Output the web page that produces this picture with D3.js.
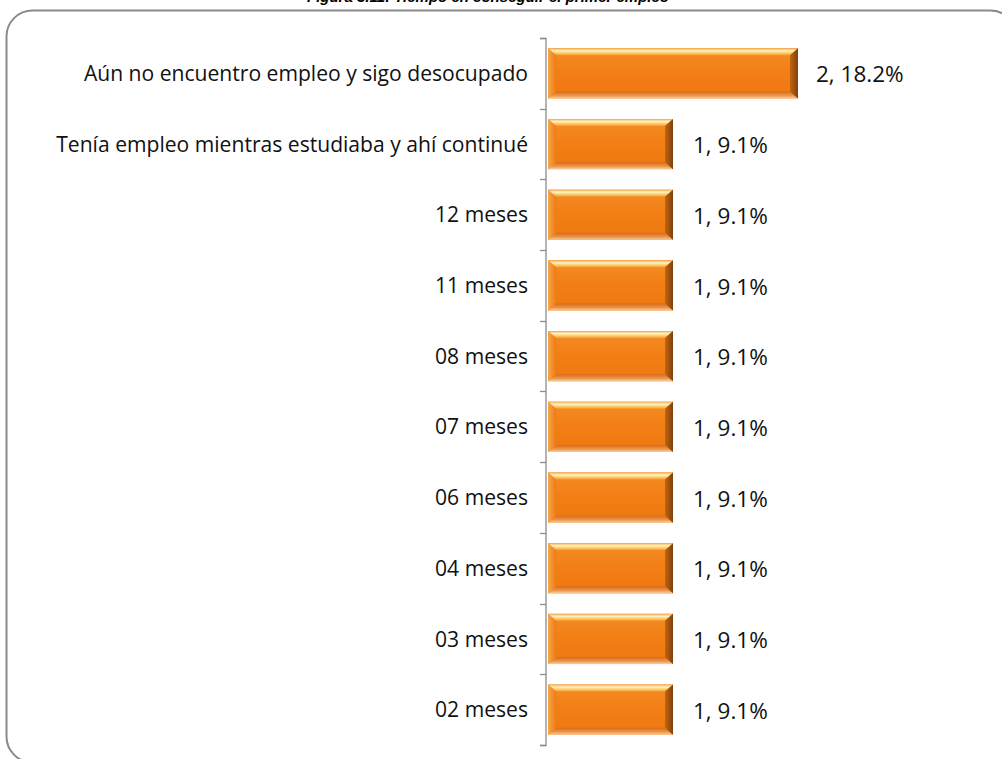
<!DOCTYPE html>
<html><head><meta charset="utf-8">
<script src="https://cdn.jsdelivr.net/npm/d3@7"></script>
<style>html,body{margin:0;padding:0;background:#fff;overflow:hidden}</style>
</head><body>
<svg id="c" width="1002" height="759"></svg>
<script>
const title = "Figura 3.11: Tiempo en conseguir el primer empleo";
const categories = ["Aún no encuentro empleo y sigo desocupado","Tenía empleo mientras estudiaba y ahí continué","12 meses","11 meses","08 meses","07 meses","06 meses","04 meses","03 meses","02 meses"];
const counts = [2,1,1,1,1,1,1,1,1,1];
const percents = [18.2,9.1,9.1,9.1,9.1,9.1,9.1,9.1,9.1,9.1];

const svg = d3.select("#c");
const font = "'Open Sans', 'Noto Sans', sans-serif";

// frame
svg.append("rect").attr("x",6.5).attr("y",10.5).attr("width",1010).attr("height",752)
  .attr("rx",26).attr("fill","none").attr("stroke","#8a8a8a").attr("stroke-width",2);

svg.append("text").attr("x",488).attr("y",1.5).attr("text-anchor","middle")
  .style("font-family","'Liberation Sans', Arial, sans-serif").style("font-weight","bold").style("font-style","italic")
  .style("font-size","15px").text(title);

const x = d3.scaleLinear().domain([0,2]).range([548,798]);
const y = d3.scaleBand().domain(categories).range([38,745]).paddingInner(0.29).paddingOuter(0.145);

// defs
const defs = svg.append("defs");
function lg(id, stops, vertical=true){
  const g = defs.append("linearGradient").attr("id",id);
  if(vertical) g.attr("x1",0).attr("y1",0).attr("x2",0).attr("y2",1);
  else g.attr("x1",0).attr("y1",0).attr("x2",1).attr("y2",0);
  stops.forEach(s=>g.append("stop").attr("offset",s[0]).attr("stop-color",s[1]));
}
lg("gMain",[[0,"#F48C26"],[0.5,"#F27E14"],[1,"#EE7812"]]);
lg("gTop",[[0,"#F6A44A"],[0.35,"#FFF3C2"],[0.6,"#FCD87E"],[1,"#F79A2E"]]);
lg("gBot",[[0,"#D86C12"],[0.6,"#EC9652"],[1,"#F9D09A"]]);
lg("gLeft",[[0,"#F7A84E"],[1,"#EE7A10"]],false);
lg("gRight",[[0,"#C4640E"],[1,"#7E420E"]],false);

// axis
const axis = d3.axisLeft(y).tickSize(0).tickFormat("");
const ag = svg.append("g").attr("transform","translate(546,0)").call(axis);
ag.select(".domain").attr("stroke","#8c8c8c").attr("stroke-width",1.3).attr("d","M-6,38.5H0V745.5H-6");
const bounds = categories.map(c=>y(c)-y.step()*y.paddingInner()/2).concat([745]);
ag.selectAll(".bt").data(bounds).join("line").attr("class","bt")
  .attr("x1",-6).attr("x2",0).attr("y1",d=>Math.round(d)+0.5).attr("y2",d=>Math.round(d)+0.5)
  .attr("stroke","#8c8c8c").attr("stroke-width",1.3);

// category labels
svg.selectAll(".cl").data(categories).join("text").attr("class","cl")
  .attr("x",528).attr("y",d=>y(d)+y.bandwidth()/2).attr("dy","0.36em").attr("text-anchor","end")
  .style("font-family",font).style("font-size","21.1px").attr("fill","#111").text(d=>d);

// bars
const bars = svg.selectAll(".bar").data(counts).join("g").attr("class","bar");
bars.each(function(v,i){
  const g = d3.select(this);
  const x0 = x(0), x1 = x(v), y0 = y(categories[i]), h = y.bandwidth(), y1 = y0+h;
  const bx = 8, by = 7;
  g.append("rect").attr("x",x0).attr("y",y0).attr("width",x1-x0).attr("height",h).attr("fill","url(#gMain)");
  g.append("path").attr("d",`M${x0},${y0}H${x1}L${x1-bx},${y0+by}H${x0+bx}Z`).attr("fill","url(#gTop)");
  g.append("path").attr("d",`M${x0},${y1}H${x1}L${x1-bx},${y1-by}H${x0+bx}Z`).attr("fill","url(#gBot)");
  g.append("path").attr("d",`M${x0},${y0}L${x0+bx},${y0+by}V${y1-by}L${x0},${y1}Z`).attr("fill","url(#gLeft)");
  g.append("path").attr("d",`M${x1},${y0}L${x1-bx},${y0+by}V${y1-by}L${x1},${y1}Z`).attr("fill","url(#gRight)");
});

// value labels
svg.selectAll(".vl").data(counts).join("text").attr("class","vl")
  .attr("x",(d)=>x(d)+ (d>1?18:20)).attr("y",(d,i)=>y(categories[i])+y.bandwidth()/2+1).attr("dy","0.36em")
  .style("font-family",font).style("font-size","22.5px").attr("fill","#111")
  .text((d,i)=>`${d}, ${percents[i]}%`);
</script>
</body></html>
